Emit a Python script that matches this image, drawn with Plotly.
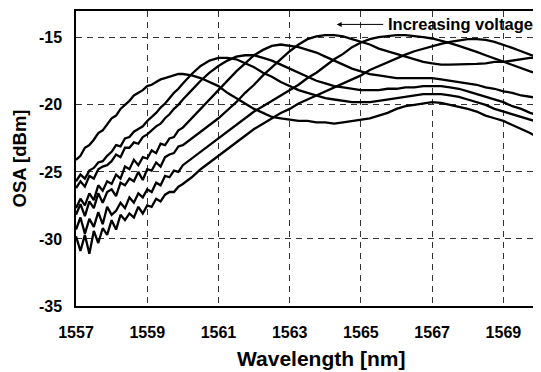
import plotly.graph_objects as go

wavelength = [
    1557.000, 1557.125, 1557.250, 1557.375, 1557.500, 1557.625, 1557.750, 1557.875,
    1558.000, 1558.125, 1558.250, 1558.375, 1558.500, 1558.625, 1558.750, 1558.875,
    1559.000, 1559.125, 1559.250, 1559.375, 1559.500, 1559.625, 1559.750, 1559.875,
    1560.000,
    1560.25, 1560.50, 1560.75,
    1561.00, 1561.25, 1561.50, 1561.75, 1562.00, 1562.25, 1562.50, 1562.75,
    1563.00, 1563.25, 1563.50, 1563.75, 1564.00, 1564.25, 1564.50, 1564.75,
    1565.00, 1565.25, 1565.50, 1565.75, 1566.00, 1566.25, 1566.50, 1566.75,
    1567.00, 1567.25, 1567.50, 1567.75, 1568.00, 1568.25, 1568.50, 1568.75,
    1569.00, 1569.25, 1569.50, 1569.75, 1570.00,
]

osa_1 = [
    -24.1, -23.8, -23.2, -23.0, -22.6, -22.1, -21.9, -21.4,
    -21.0, -20.8, -20.3, -20.0, -19.7, -19.3, -19.1, -18.9,
    -18.6, -18.5, -18.3, -18.1, -18.0, -17.9, -17.75, -17.7,
    -17.7,
    -17.8, -18.0, -18.3,
    -18.6, -19.1, -19.5, -19.9, -20.3, -20.6, -20.9, -21.0,
    -21.1, -21.2, -21.2, -21.3, -21.3, -21.4, -21.3, -21.2,
    -21.1, -21.0, -20.8, -20.6, -20.3, -20.1, -20.0, -19.9,
    -19.8, -19.85, -20.0, -20.1, -20.3, -20.5, -20.8, -21.0,
    -21.2, -21.5, -21.8, -22.1, -22.5,
]
osa_2 = [
    -25.7, -25.2, -25.5, -24.9, -24.7, -24.3, -24.2, -23.8,
    -23.5, -23.0, -23.1, -22.5, -22.4, -22.0, -21.8, -21.6,
    -21.2, -20.9, -20.6, -20.2, -19.9, -19.5, -19.1, -18.8,
    -18.4,
    -17.7, -17.1, -16.7,
    -16.5, -16.5, -16.6, -16.9, -17.2, -17.6, -17.9, -18.3,
    -18.6, -18.9, -19.1, -19.3, -19.5, -19.6, -19.7, -19.8,
    -19.8, -19.8, -19.7, -19.6, -19.5, -19.4, -19.3, -19.2,
    -19.2, -19.2, -19.3, -19.4, -19.6, -19.8, -20.0, -20.3,
    -20.5, -20.7, -20.9, -21.1, -21.3,
]
osa_3 = [
    -26.2, -25.7, -26.1, -25.3, -25.5, -24.8, -24.6, -24.5,
    -24.2, -23.7, -23.9, -23.2, -23.2, -22.8, -22.9, -22.4,
    -22.2, -21.9, -21.6, -21.4, -21.0, -20.7, -20.3, -20.0,
    -19.6,
    -18.9, -18.2, -17.6,
    -17.1, -16.7, -16.4, -16.3, -16.3, -16.5, -16.7, -17.0,
    -17.3, -17.6, -17.9, -18.2, -18.4, -18.6, -18.7, -18.8,
    -18.9, -18.9, -18.9, -18.8, -18.8, -18.7, -18.7, -18.6,
    -18.6, -18.6, -18.7, -18.8, -19.0, -19.2, -19.4, -19.6,
    -19.8, -20.1, -20.3, -20.6, -20.8,
]
osa_4 = [
    -27.7, -27.0, -27.5, -26.6, -27.1, -26.0, -26.4, -25.7,
    -25.9, -25.2, -25.5, -24.6, -24.8, -24.1, -24.5, -23.9,
    -24.0, -23.4, -23.6, -22.9, -23.0, -22.5, -22.4, -21.9,
    -21.7,
    -21.0, -20.3, -19.6,
    -18.9, -18.2, -17.5, -16.9, -16.3, -15.9, -15.6, -15.5,
    -15.6, -15.7, -15.9, -16.1, -16.4, -16.7, -17.0, -17.3,
    -17.5, -17.7, -17.8, -17.9, -18.0, -18.0, -18.0, -18.0,
    -18.0, -18.1, -18.2, -18.3, -18.4, -18.5, -18.7, -18.8,
    -19.0, -19.1, -19.3, -19.4, -19.5,
]
osa_5 = [
    -28.2, -27.4, -28.3, -27.2, -27.7, -26.6, -27.3, -26.5,
    -26.3, -26.8, -25.8, -26.0, -25.5, -25.7, -25.0, -25.6,
    -24.8, -24.9, -24.3, -24.6, -23.9, -23.7, -23.6, -23.1,
    -23.0,
    -22.5, -22.0, -21.5,
    -21.0, -20.4, -19.8, -19.1, -18.5, -17.8, -17.2, -16.6,
    -16.0, -15.5, -15.1, -14.9, -14.8, -14.8, -14.9, -15.1,
    -15.3, -15.5, -15.8, -16.0, -16.2, -16.4, -16.6, -16.8,
    -16.9, -17.0, -17.0, -17.0, -17.0, -16.95, -16.9, -16.8,
    -16.8, -16.7, -16.6, -16.5, -16.5,
]
osa_6 = [
    -29.3, -28.4, -29.6, -28.5, -29.1, -28.0, -28.9, -27.6,
    -28.2, -27.9, -27.3, -27.7, -26.9, -27.3, -26.6, -26.9,
    -26.3, -26.5, -25.8, -26.0, -25.3, -25.4, -24.9, -25.0,
    -24.5,
    -24.0, -23.5, -23.0,
    -22.5, -22.0, -21.5, -21.0, -20.5, -20.1, -19.7, -19.3,
    -18.9, -18.5, -18.0, -17.6, -17.1, -16.6, -16.2, -15.7,
    -15.35, -15.1, -14.95, -14.85, -14.8, -14.8, -14.85, -14.95,
    -15.05, -15.2, -15.4, -15.6, -15.8, -16.05, -16.3, -16.55,
    -16.8, -17.05, -17.3, -17.5, -17.7,
]
osa_7 = [
    -29.8, -30.9, -29.7, -31.1, -29.4, -30.3, -29.2, -29.7,
    -28.6, -29.3, -28.2, -28.6, -28.1, -28.4, -27.6, -28.1,
    -27.5, -27.6, -27.0, -27.2, -26.7, -26.5, -26.5, -26.1,
    -25.9,
    -25.4, -24.8, -24.3,
    -23.8, -23.3, -22.8, -22.3, -21.8, -21.4, -21.0, -20.6,
    -20.3, -19.9, -19.6, -19.3, -19.0, -18.7, -18.4, -18.1,
    -17.8, -17.4, -17.1, -16.8, -16.5, -16.25, -16.0, -15.8,
    -15.6, -15.45, -15.3, -15.2, -15.1, -15.1, -15.15, -15.3,
    -15.5, -15.75, -16.0, -16.25, -16.5,
]
series = [osa_1, osa_2, osa_3, osa_4, osa_5, osa_6, osa_7]

x_ticks = [1557, 1559, 1561, 1563, 1565, 1567, 1569]
y_ticks = [-35, -30, -25, -20, -15]

FONT = "Liberation Sans, Arial, sans-serif"

fig = go.Figure()
for s in series:
    fig.add_trace(go.Scatter(x=wavelength, y=s, mode="lines",
                             line=dict(color="black", width=2.3),
                             showlegend=False, hoverinfo="skip"))

axis_common = dict(
    showline=True, mirror=True, linecolor="black", linewidth=1.5,
    showgrid=True, gridcolor="#333333", gridwidth=1, griddash="6px,5px",
    zeroline=False, ticks="", automargin=False,
    tickfont=dict(family=FONT, size=16, color="black", weight="bold"),
)

fig.update_xaxes(range=[1557, 1570], tickvals=x_ticks,
                 ticktext=[str(v) for v in x_ticks],
                 ticklabelstandoff=11, **axis_common)
fig.update_yaxes(range=[-35, -13], tickvals=y_ticks,
                 ticktext=[str(v) for v in y_ticks],
                 ticklabelstandoff=9, **axis_common)

# axis titles
fig.add_annotation(x=0.529, y=-0.178, xref="paper", yref="paper",
                   text="<b>Wavelength [nm]</b>", showarrow=False,
                   xanchor="center", yanchor="middle",
                   font=dict(family=FONT, size=21, color="black"))
fig.add_annotation(x=-0.121, y=0.5, xref="paper", yref="paper",
                   text="<b>OSA [dBm]</b>", showarrow=False, textangle=-90,
                   xanchor="center", yanchor="middle",
                   font=dict(family=FONT, size=18.5, color="black"))

fig.add_annotation(x=1565.7, y=-14.0, xref="x", yref="y",
                   text="<b>Increasing voltage</b>", showarrow=False,
                   xanchor="left", yanchor="middle",
                   font=dict(family=FONT, size=16.5, color="black"))
fig.add_annotation(x=1564.32, y=-14.0, xref="x", yref="y", text="",
                   showarrow=True, ax=48, ay=0, arrowhead=2, arrowsize=1,
                   arrowwidth=1, arrowcolor="black")

# the page body has an 8px margin, so the figure is sized to fit the window
fig.update_layout(width=533, height=364,
                  margin=dict(l=68, r=2, t=3, b=66),
                  plot_bgcolor="white", paper_bgcolor="white")

fig.write_html("out.html")
